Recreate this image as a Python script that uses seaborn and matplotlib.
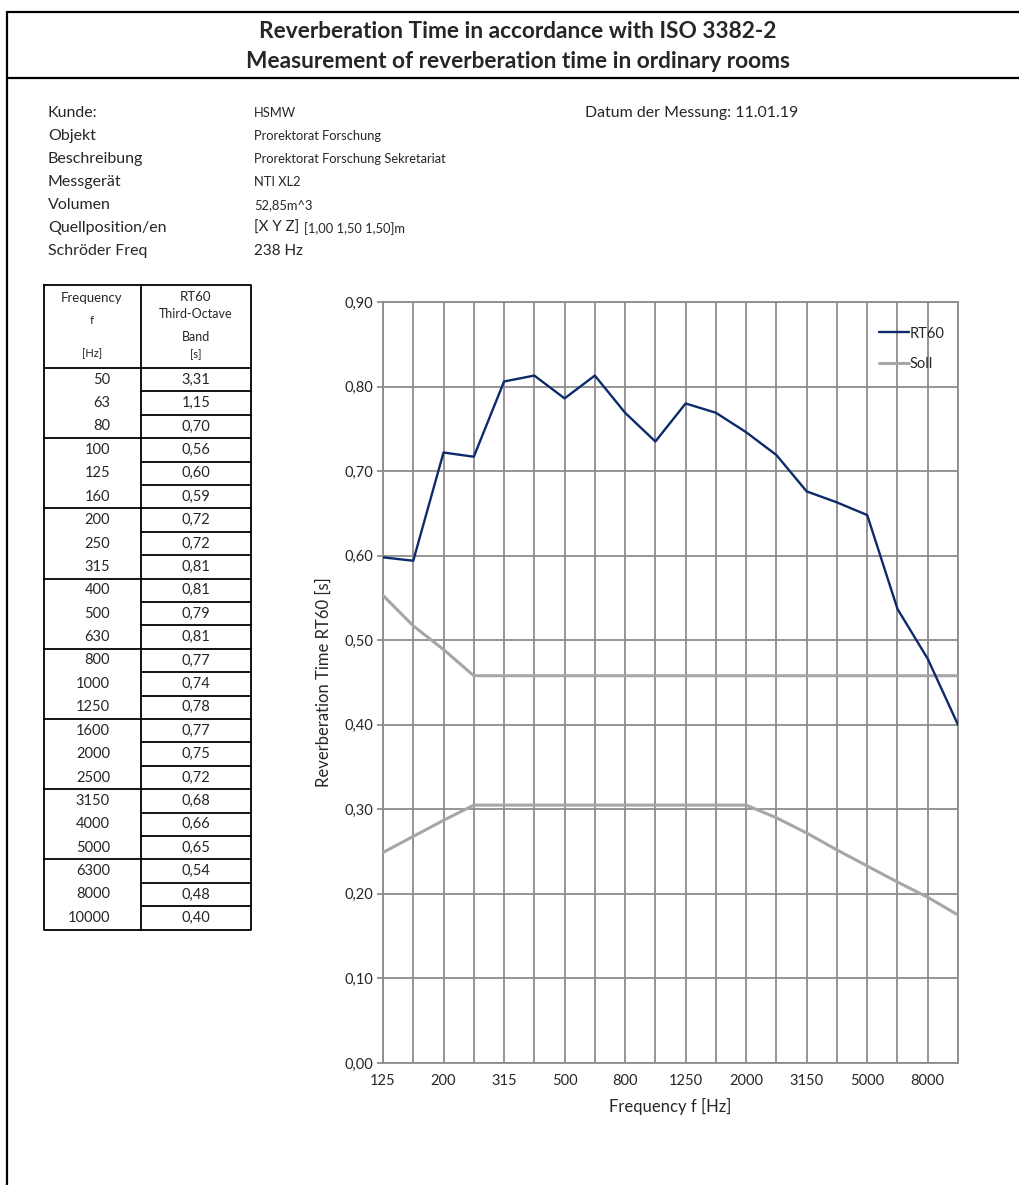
import numpy as np
import pandas as pd
import seaborn as sns
import matplotlib.pyplot as plt
from matplotlib.ticker import FuncFormatter

# table values (third-octave bands)
table_freq = ['50', '63', '80', '100', '125', '160', '200', '250', '315', '400', '500', '630',
              '800', '1000', '1250', '1600', '2000', '2500', '3150', '4000', '5000', '6300',
              '8000', '10000']
table_rt60 = ['3,31', '1,15', '0,70', '0,56', '0,60', '0,59', '0,72', '0,72', '0,81', '0,81',
              '0,79', '0,81', '0,77', '0,74', '0,78', '0,77', '0,75', '0,72', '0,68', '0,66',
              '0,65', '0,54', '0,48', '0,40']

# chart values
freqs = ['125', '160', '200', '250', '315', '400', '500', '630', '800', '1000', '1250', '1600',
         '2000', '2500', '3150', '4000', '5000', '6300', '8000', '10000']
rt60 = [0.598, 0.594, 0.722, 0.717, 0.806, 0.813, 0.786, 0.813, 0.769, 0.735, 0.780, 0.769,
        0.746, 0.719, 0.676, 0.663, 0.648, 0.537, 0.478, 0.400]
soll_upper = [0.553, 0.517, 0.489, 0.458, 0.458, 0.458, 0.458, 0.458, 0.458, 0.458, 0.458, 0.458,
              0.458, 0.458, 0.458, 0.458, 0.458, 0.458, 0.458, 0.458]
soll_lower = [0.249, 0.268, 0.287, 0.305, 0.305, 0.305, 0.305, 0.305, 0.305, 0.305, 0.305, 0.305,
              0.305, 0.290, 0.272, 0.252, 0.233, 0.214, 0.196, 0.175]
y_ticks = [0.0, 0.1, 0.2, 0.3, 0.4, 0.5, 0.6, 0.7, 0.8, 0.9]

info_labels = ['Kunde:', 'Objekt', 'Beschreibung', 'Messgerät', 'Volumen', 'Quellposition/en', 'Schröder Freq']
info_values = ['HSMW', 'Prorektorat Forschung', 'Prorektorat Forschung Sekretariat', 'NTI XL2',
               '52,85m^3', '', '238 Hz']

sns.set_theme(style='white')
plt.rcParams['font.family'] = ['Lato', 'DejaVu Sans']

W, H = 1020, 1185
fig = plt.figure(figsize=(W / 100, H / 100), dpi=100)

# background layer in pixel coordinates
bg = fig.add_axes([0, 0, 1, 1])
bg.set_xlim(0, W)
bg.set_ylim(H, 0)
bg.axis('off')

bg.plot([7, W], [12, 12], color='black', lw=1.6)
bg.plot([7, W], [78, 78], color='black', lw=1.6)
bg.plot([7, 7], [12, H], color='black', lw=1.6)

bg.text(518, 31, 'Reverberation Time in accordance with ISO 3382-2', ha='center', va='center',
        fontsize=16.3, fontweight='bold')
bg.text(518, 61, 'Measurement of reverberation time in ordinary rooms', ha='center', va='center',
        fontsize=16.3, fontweight='bold')

for i, (lab, val) in enumerate(zip(info_labels, info_values)):
    y = 113 + i * 23
    bg.text(48, y, lab, ha='left', va='center', fontsize=11.5)
    if val == '238 Hz':
        bg.text(254, y, val, ha='left', va='center', fontsize=11)
    elif val:
        bg.text(254, y, val, ha='left', va='center', fontsize=9.3)
bg.text(254, 113 + 5 * 23, '[X Y Z]', ha='left', va='center', fontsize=10.8)
bg.text(304, 114 + 5 * 23, '[1,00 1,50 1,50]m', ha='left', va='center', fontsize=9.3)
bg.text(585, 113, 'Datum der Messung: 11.01.19', ha='left', va='center', fontsize=11.4)

# table
x0, xm, x1 = 44, 141, 251
top, hdr, rowh = 285, 368, 23.4
bottom = hdr + rowh * len(table_freq)
lw_t = 1.3
bg.plot([x0, x1, x1, x0, x0], [top, top, bottom, bottom, top], color='black', lw=lw_t)
bg.plot([xm, xm], [top, bottom], color='black', lw=lw_t)
bg.plot([x0, x1], [hdr, hdr], color='black', lw=lw_t)
for i in range(1, len(table_freq)):
    y = hdr + i * rowh
    if i % 3 == 0:
        bg.plot([x0, x1], [y, y], color='black', lw=lw_t)
    else:
        bg.plot([xm, x1], [y, y], color='black', lw=lw_t)
bg.text(92, 298, 'Frequency', ha='center', va='center', fontsize=9.5)
bg.text(92, 321, 'f', ha='center', va='center', fontsize=8.5)
bg.text(92, 354, '[Hz]', ha='center', va='center', fontsize=8)
bg.text(196, 297, 'RT60', ha='center', va='center', fontsize=9.5)
bg.text(196, 314, 'Third-Octave', ha='center', va='center', fontsize=9)
bg.text(196, 337, 'Band', ha='center', va='center', fontsize=9)
bg.text(196, 355, '[s]', ha='center', va='center', fontsize=8)
for i, (f, v) in enumerate(zip(table_freq, table_rt60)):
    y = hdr + rowh * (i + 0.5)
    bg.text(110, y, f, ha='right', va='center', fontsize=10.5)
    bg.text(196, y, v, ha='center', va='center', fontsize=10.5)

# chart
ax = fig.add_axes([383 / W, 1 - 1063 / H, (958 - 383) / W, (1063 - 302) / H])
ax.patch.set_alpha(0)
cat = pd.Categorical(freqs, categories=freqs, ordered=True)
df_rt = pd.DataFrame({'freq': cat, 'value': rt60})
df_soll = pd.DataFrame({
    'freq': pd.Categorical(freqs + freqs, categories=freqs, ordered=True),
    'value': soll_upper + soll_lower,
    'bound': ['upper'] * len(freqs) + ['lower'] * len(freqs),
})

grid_c = '#8c8c8c'
ax.set_axisbelow(True)
sns.lineplot(data=df_rt, x='freq', y='value', color='#0d2a6b', lw=1.7, label='RT60', ax=ax, zorder=4)
sns.lineplot(data=df_soll, x='freq', y='value', units='bound', estimator=None, color='#a6a6a6',
             lw=2.2, label='Soll', ax=ax, zorder=3)

ax.set_xlim(0, len(freqs) - 1)
ax.set_ylim(0, 0.9)
ax.set_xticks(range(len(freqs)))
ax.set_xticklabels([f if i % 2 == 0 else '' for i, f in enumerate(freqs)], fontsize=10.5)
ax.set_yticks(y_ticks)
ax.yaxis.set_major_formatter(FuncFormatter(lambda v, p: f'{v:.2f}'.replace('.', ',')))
ax.tick_params(axis='y', labelsize=10.5, length=4, color=grid_c, left=True, pad=3)
ax.tick_params(axis='x', length=0, pad=8)
ax.grid(True, color=grid_c, lw=1.3)
for s in ax.spines.values():
    s.set_color(grid_c)
    s.set_linewidth(1.3)
ax.set_xlabel('Frequency f [Hz]', fontsize=12, labelpad=7)
ax.set_ylabel('Reverberation Time RT60 [s]', fontsize=12, labelpad=9)

handles, labels = ax.get_legend_handles_labels()
ax.legend(handles[:2], labels[:2], loc='upper right', bbox_to_anchor=(1.0, 0.985), frameon=False,
          fontsize=10.5, handlelength=2.0, handletextpad=0.1, labelspacing=1.15)

fig.savefig('out.png', dpi=100)
